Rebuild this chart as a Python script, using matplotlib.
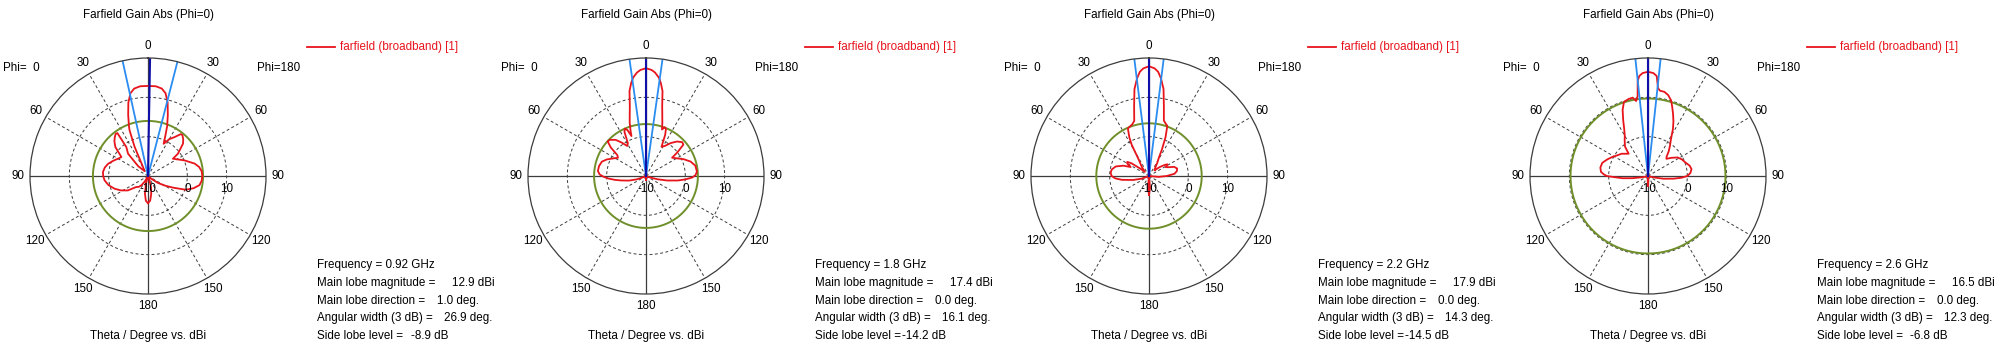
import numpy as np
import matplotlib
matplotlib.use("Agg")
import matplotlib.pyplot as plt
from matplotlib.lines import Line2D

plt.rcParams['font.family'] = ['Liberation Sans', 'DejaVu Sans']

# one farfield cut per frequency
freq_labels = ["0.92", "1.8", "2.2", "2.6"]
main_mag = [12.9, 17.4, 17.9, 16.5]      # dBi
main_dir = [1.0, 0.0, 0.0, 0.0]          # deg
width_3db = [26.9, 16.1, 14.3, 12.3]     # deg
side_lobe = [-8.9, -14.2, -14.5, -6.8]   # dB

# theta cut traced in drawing order:
# negative angles = Phi=0 half (left), positive = Phi=180 half (right)
ang_092 = [-180, -175, -170, -165, -160, -155, -150, -145, -140, -133, -125.6,
           -118, -110.8, -103, -95.7, -90, -85, -79, -72.9, -66, -60, -54.5,
           -48.4, -44, -40.5, -37.5, -35.5, -36.8, -41.8, -45, -35, -29, -24.7,
           -22, -21, -18, -15, -12, -9, -5, 0, 5, 9, 12, 15, 18, 21, 23.5, 25.9,
           30, 34.4, 38, 40, 44, 47.3, 53.3, 55.3, 60, 66.9, 75.2, 80, 85, 90, 95,
           100, 105, 110, 115, 120, 125, 130, 135, 155, 160, 165, 170, 175, 180]
gain_092 = [-3.1, -3.7, -5.5, -8.0, -10, -10, -8.5, -7.2, -6.4, -5.9, -3.7,
            -2.2, -0.9, 0.3, 1.1, 1.4, 1.5, 1.2, 0.6, -0.4, -1.2, -1.7,
            1.1, 2.3, 3.0, 3.5, 3.4, -0.8, -2.4, -6.5, -8.5, -7.4, -1.9,
            2.5, 3.5, 6.3, 9.3, 11.5, 12.5, 12.9, 12.9, 12.9, 12.5, 11.5, 9.3, 6.3,
            3.6, 1.0, -0.9, 0.8, 2.0, 3.5, 3.6, 2.9, 2.1, -0.5, -2.3, -1.5, 0.1,
            2.3, 3.2, 3.7, 3.8, 3.7, 3.3, 2.0, 0.2, -3.0, -5.2, -7.0, -9.0, -10,
            -10, -9.0, -7.0, -5.3, -3.7, -3.1]

ang_18 = [-180, -170, -120, -115, -110, -105, -100, -97, -94, -91, -88, -84, -78,
          -72, -67, -62, -57, -54, -51, -48, -45, -40, -36, -32, -29, -26, -24,
          -22, -20, -19, -17, -15, -13, -11, -9, -7.5, -5, -3, 0, 3, 5, 7.5, 9,
          11, 13, 15, 17, 19, 21, 23, 25, 28, 32, 37, 42, 47, 50, 53, 55, 60, 66,
          72, 78, 85, 89, 92, 95, 98, 102, 106, 110, 115, 170, 180]
gain_18 = [-9.0, -10, -10, -9.5, -7.5, -5.5, -3.5, -2.0, -0.5, 0.8, 1.8, 2.3, 2.2,
           1.8, 0.8, -0.5, -1.5, -1.0, 1.5, 3.1, 3.0, 2.0, 0.5, -1.0, -0.5, 2.5,
           3.2, 2.6, 0.8, 2.0, 4.2, 6.0, 8.3, 12.0, 14.0, 15.2, 16.4, 17.0, 17.4,
           17.0, 16.4, 15.2, 14.0, 12.0, 8.3, 6.0, 4.2, 2.5, 3.3, 3.0, 1.5, -1.6,
           -1.0, 0.5, 1.8, 2.6, 2.4, 0.0, -1.9, -1.0, 0.5, 1.9, 2.8, 3.0, 2.6, 1.7,
           0.0, -1.8, -4.5, -7.0, -9.0, -10, -10, -9.0]

ang_22 = [-180, -175, -170, -115, -110, -104, -98, -94, -90, -85, -80, -74, -68,
          -64, -60, -57, -54, -50, -45, -38, -32, -29, -27, -24, -21, -18, -15,
          -12, -9.5, -7, -5, -3, 0, 3, 5, 7, 9.5, 12, 15, 18, 20, 23, 26, 28, 32,
          38, 44, 50, 55, 58, 62, 66, 70, 75, 80, 85, 90, 95, 100, 170, 175, 180]
gain_22 = [-5.2, -7.0, -10, -10, -8.0, -5.8, -3.0, -1.4, -0.5, -0.2, -0.4, -1.2,
           -3.0, -4.8, -3.6, -3.4, -4.5, -7.0, -8.5, -7.0, -5.0, -1.0, 1.0, 3.2,
           3.5, 3.8, 4.5, 8.2, 12.4, 15.0, 16.6, 17.4, 17.9, 17.4, 16.6, 15.0,
           12.4, 8.2, 4.6, 3.9, 3.6, 0.8, -2.5, -4.5, -6.0, -7.5, -8.0, -6.5,
           -5.0, -4.4, -5.2, -4.5, -3.2, -2.6, -2.8, -3.5, -5.5, -7.5, -10, -10,
           -7.0, -5.2]

ang_26 = [-180, -175, -170, -110, -106, -102, -98, -95, -92, -90, -88, -85, -80,
          -74, -68, -62, -56, -50, -45, -41, -38, -33, -30, -27, -24, -21, -18,
          -14, -11, -9, -7.4, -6.2, -5, -3, 0, 3, 5, 6.5, 8, 11, 14, 17, 19.5,
          22, 25, 28, 32, 36, 40, 44, 47, 52, 58, 64, 70, 76, 81, 86, 90, 93, 96,
          100, 104, 108, 170, 175, 180]
gain_26 = [-7.5, -9.0, -10, -10, -9.5, -8.5, -6.0, -3.5, -1.5, 0.5, 1.2, 2.0, 2.3,
           2.1, 1.2, 0.3, -0.6, -1.2, -2.0, -2.5, -0.5, 0.9, 1.8, 3.3, 5.5, 8.0,
           9.8, 10.2, 10.3, 9.3, 10.5, 14.3, 15.5, 16.2, 16.5, 16.2, 15.5, 12.5,
           11.9, 11.8, 11.2, 10.1, 8.5, 7.0, 5.3, 3.5, 1.0, -0.5, -1.8, -3.2,
           -3.6, -2.5, -1.1, -0.4, 0.1, 0.9, 1.2, 0.8, 0.0, -1.5, -3.5, -6.0,
           -8.5, -10, -10, -9.0, -7.5]

cut_angles = [ang_092, ang_18, ang_22, ang_26]
cut_gains = [gain_092, gain_18, gain_22, gain_26]

W, H = 2000, 350
R_PX = 118               # plot radius in pixels
RMIN, RMAX = -10, 20     # dBi at centre / outer ring
CX, CY = 148, 176        # polar centre inside one panel
panel_x = [0, 498, 1001, 1500]
FS = 8.4

RED = '#e8141c'
GREEN = '#6f8f2a'
LBLUE = '#2a8cf0'
DBLUE = '#1010a8'
GRID = '#3c3c3c'

fig = plt.figure(figsize=(W / 100, H / 100), dpi=100)


def ftxt(x, y, s, **kw):
    kw.setdefault('fontsize', FS)
    kw.setdefault('va', 'center')
    fig.text(x / W, 1 - y / H, s, **kw)


full = np.linspace(0, 2 * np.pi, 721)

for k in range(4):
    x0 = panel_x[k]
    cx = x0 + CX
    ax = fig.add_axes([(cx - R_PX) / W, (H - CY - R_PX) / H, 2 * R_PX / W, 2 * R_PX / H],
                      projection='polar')
    ax.set_theta_zero_location('N')
    ax.set_theta_direction(-1)
    ax.set_rlim(RMIN, RMAX)
    ax.grid(False)
    ax.set_xticks([])
    ax.set_yticks([])
    ax.spines['polar'].set_color(GRID)
    ax.spines['polar'].set_linewidth(0.9)
    ax.patch.set_alpha(0)

    # grid: dashed rings and spokes, solid cross
    for lev in (0, 10):
        ax.plot(full, np.full_like(full, lev), ls=(0, (3, 2.5)), color=GRID, lw=0.7)
    for a in (30, 60, 120, 150, -30, -60, -120, -150):
        ax.plot([np.radians(a)] * 2, [RMIN, RMAX], ls=(0, (3, 2.5)), color=GRID, lw=0.7)
    for a in (0, 90, 180, -90):
        ax.plot([np.radians(a)] * 2, [RMIN, RMAX], color=GRID, lw=0.9)

    # side lobe threshold ring
    ax.plot(full, np.full_like(full, main_mag[k] + side_lobe[k]), color=GREEN, lw=1.4)

    # pattern
    g = np.clip(np.array(cut_gains[k], dtype=float), RMIN, None)
    ax.plot(np.radians(cut_angles[k]), g, color=RED, lw=1.3)

    # main lobe direction and 3 dB beam edges
    d = main_dir[k]
    half = width_3db[k] / 2
    for a in (d - half, d + half):
        ax.plot([np.radians(a)] * 2, [RMIN, RMAX], color=LBLUE, lw=1.3)
    ax.plot([np.radians(d)] * 2, [RMIN, RMAX], color=DBLUE, lw=1.5)

    # theta labels round the ring
    for a in range(-150, 181, 30):
        rr = 130
        tx = cx + rr * np.sin(np.radians(a))
        ty = CY - rr * np.cos(np.radians(a))
        ftxt(tx, ty, str(abs(a)), ha='center')

    # radial scale labels
    for v in (-10, 0, 10):
        rp = (v - RMIN) / (RMAX - RMIN) * R_PX
        ftxt(cx + rp, CY + 13, str(v), ha='center')

    ftxt(cx, 15, "Farfield Gain Abs (Phi=0)", ha='center')
    ftxt(cx, 336, "Theta / Degree vs. dBi", ha='center')
    ftxt(x0 + 3, 68, "Phi=  0", ha='left')
    ftxt(x0 + 257, 68, "Phi=180", ha='left')

    # legend
    fig.add_artist(Line2D([(x0 + 307) / W, (x0 + 335) / W], [1 - 47 / H] * 2,
                          color=RED, lw=1.3))
    ftxt(x0 + 340, 47, "farfield (broadband) [1]", ha='left', color=RED)

    # summary block
    lx = x0 + 317
    ftxt(lx, 265, "Frequency = %s GHz" % freq_labels[k], ha='left')
    ftxt(lx, 283, "Main lobe magnitude =", ha='left')
    ftxt(x0 + 495, 283, "%.1f dBi" % main_mag[k], ha='right')
    ftxt(lx, 301, "Main lobe direction =", ha='left')
    ftxt(x0 + 479, 301, "%.1f deg." % main_dir[k], ha='right')
    ftxt(lx, 318, "Angular width (3 dB) =", ha='left')
    ftxt(x0 + 492, 318, "%.1f deg." % width_3db[k], ha='right')
    ftxt(lx, 336, "Side lobe level =", ha='left')
    ftxt(x0 + 448, 336, "%.1f dB" % side_lobe[k], ha='right')

fig.savefig("out.png", dpi=100, facecolor='white')
